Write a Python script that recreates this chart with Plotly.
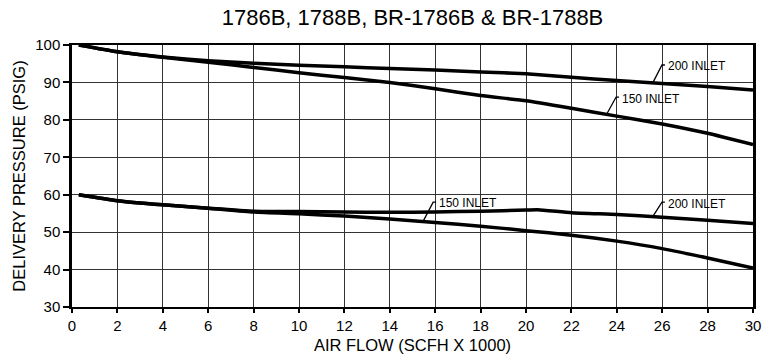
import plotly.graph_objects as go

# ---- data ----
x_main = [0.3, 2, 4, 6, 8, 10, 12, 14, 16, 18, 20, 22, 24, 26, 28, 30]
hi_200 = [100, 98.2, 96.8, 95.8, 95.1, 94.6, 94.2, 93.7, 93.3, 92.8, 92.3, 91.4, 90.5, 89.7, 88.9, 88.0]
hi_150 = [100, 98.2, 96.7, 95.4, 94.0, 92.6, 91.3, 90.0, 88.3, 86.5, 85.1, 83.1, 81.0, 78.9, 76.4, 73.4]

x_lo200 = [0.3, 2, 4, 6, 8, 10, 12, 14, 16, 18, 20, 20.5, 22, 24, 26, 28, 30]
lo_200 = [60, 58.4, 57.3, 56.4, 55.6, 55.5, 55.4, 55.3, 55.4, 55.6, 55.9, 56.0, 55.2, 54.7, 54.0, 53.2, 52.3]
lo_150 = [60, 58.4, 57.3, 56.4, 55.4, 54.9, 54.3, 53.5, 52.6, 51.6, 50.4, 49.2, 47.6, 45.6, 43.1, 40.4]

x_ticks = list(range(0, 31, 2))
y_ticks = list(range(30, 101, 10))

title_text = "1786B, 1788B, BR-1786B & BR-1788B"
x_title = "AIR FLOW (SCFH X 1000)"
y_title = "DELIVERY PRESSURE (PSIG)"

FONT = "Liberation Sans, Arial, sans-serif"
LINE = dict(color="black", width=3.5)

fig = go.Figure()
for xs, ys, nm in [(x_main, hi_200, "200 INLET"), (x_main, hi_150, "150 INLET"),
                   (x_lo200, lo_200, "200 INLET"), (x_main, lo_150, "150 INLET")]:
    fig.add_trace(go.Scatter(x=xs, y=ys, mode="lines", name=nm,
                             line=dict(**LINE, shape="spline", smoothing=0.5),
                             showlegend=False, hoverinfo="x+y"))

# labels with leader hooks: (text x, text y, hook top x, hook y, end x, end y)
labels = [
    ("200 INLET", 26.17, 94.4, 26.12, 94.65, 25.59, 89.95),
    ("150 INLET", 24.14, 85.6, 24.10, 86.1, 23.57, 81.7),
    ("150 INLET", 16.08, 57.75, 16.04, 58.0, 15.46, 52.8),
    ("200 INLET", 26.17, 57.5, 26.12, 58.0, 25.59, 54.2),
]
shapes = []
annotations = []
for txt, tx, ty, hx, hy, ex, ey in labels:
    annotations.append(dict(x=tx, y=ty, xref="x", yref="y", text=txt, showarrow=False,
                            xanchor="left", yanchor="middle",
                            font=dict(family=FONT, size=12, color="black")))
    shapes.append(dict(type="path", xref="x", yref="y",
                       path=f"M {hx},{hy} L {hx-0.13},{hy} L {ex},{ey}",
                       line=dict(color="black", width=1.3)))

fig.update_layout(
    width=778, height=354,
    margin=dict(l=72, r=25, t=45, b=47, autoexpand=False),
    paper_bgcolor="white", plot_bgcolor="white",
    title=dict(text=title_text, x=0.5, xref="paper", xanchor="center",
               y=0.95, yref="container", yanchor="middle",
               font=dict(family=FONT, size=22, color="black", weight="normal")),
    font=dict(family=FONT, color="black"),
    shapes=shapes, annotations=annotations,
)
fig.update_xaxes(range=[0, 30], tickvals=x_ticks, ticktext=[str(v) for v in x_ticks],
                 showgrid=True, gridcolor="#333", gridwidth=1,
                 showline=True, linecolor="black", linewidth=2, mirror=True,
                 ticks="outside", ticklen=4, tickcolor="black", tickwidth=1.5,
                 tickfont=dict(family=FONT, size=15, color="black"),
                 title=dict(text=x_title, standoff=6, font=dict(family=FONT, size=16.5, color="black")),
                 automargin=False, zeroline=False)
fig.update_yaxes(range=[30, 100], tickvals=y_ticks, ticktext=[str(v) for v in y_ticks],
                 showgrid=True, gridcolor="#333", gridwidth=1,
                 showline=True, linecolor="black", linewidth=2.5, mirror=True,
                 ticks="outside", ticklen=6, tickcolor="black", tickwidth=1.5,
                 tickfont=dict(family=FONT, size=15, color="black"),
                 title=dict(text=y_title, standoff=6, font=dict(family=FONT, size=16.5, color="black")),
                 automargin=False, zeroline=False)

fig.write_html("out.html")
